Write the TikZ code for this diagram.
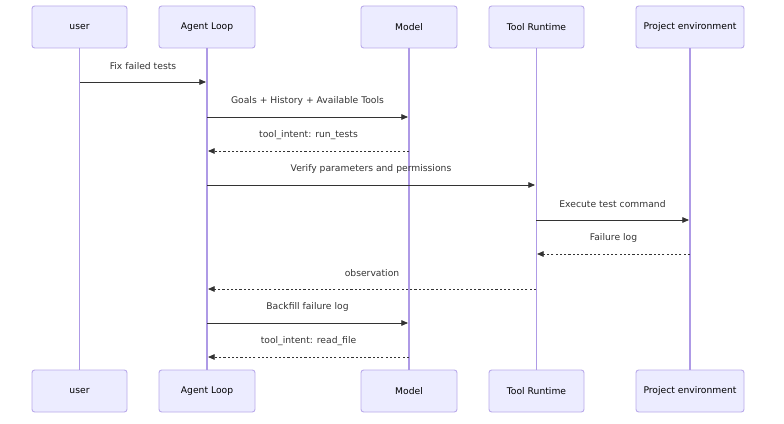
\documentclass[tikz,border=0pt]{standalone}
\usepackage{fontspec}
\setmainfont{DejaVu Sans}
\usetikzlibrary{arrows.meta}
\definecolor{boxfill}{HTML}{ECECFF}
\definecolor{boxline}{HTML}{B9A9EA}
\definecolor{life}{HTML}{AE9AE6}
\definecolor{ink}{HTML}{333333}
\tikzset{
  actor/.style={draw=boxline, line width=0.7pt, fill=boxfill, rounded corners=2pt,
    minimum height=31.5pt, inner sep=0pt, text=black, font=\fontsize{6.9pt}{8pt}\selectfont},
  lifeline/.style={draw=life, line width=1.1pt},
  msg/.style={draw=ink, line width=0.6pt, -{Triangle[length=5pt,width=4.2pt]}},
  reply/.style={msg, dash pattern=on 1.6pt off 1.6pt},
  lbl/.style={text=ink, font=\fontsize{6.9pt}{8pt}\selectfont, inner sep=0pt, yshift=12pt}
}
\begin{document}
\begin{tikzpicture}[x=0.75pt,y=-0.75pt]
\useasboundingbox (0,0) rectangle (784,424);
% top actors
\node[actor, minimum width=71.25pt] (uT) at (79.5,27) {user};
\node[actor, minimum width=72pt] (aT) at (207,27) {Agent Loop};
\node[actor, minimum width=72pt] (mT) at (409,27) {Model};
\node[actor, minimum width=71.25pt] (tT) at (536.5,27) {Tool Runtime};
\node[actor, minimum width=81pt] (pT) at (690,27) {Project environment};
% bottom actors
\node[actor, minimum width=71.25pt] (uB) at (79.5,391) {user};
\node[actor, minimum width=72pt] (aB) at (207,391) {Agent Loop};
\node[actor, minimum width=72pt] (mB) at (409,391) {Model};
\node[actor, minimum width=71.25pt] (tB) at (536.5,391) {Tool Runtime};
\node[actor, minimum width=81pt] (pB) at (690,391) {Project environment};
% lifelines
\draw[lifeline] (uT.south) -- (uB.north);
\draw[lifeline] (aT.south) -- (aB.north);
\draw[lifeline] (mT.south) -- (mB.north);
\draw[lifeline] (tT.south) -- (tB.north);
\draw[lifeline] (pT.south) -- (pB.north);
% message coordinates
\coordinate (s1) at (80,82);  \coordinate (e1) at (206,82);
\coordinate (s2) at (207,117); \coordinate (e2) at (408,117);
\coordinate (s3) at (409,151); \coordinate (e3) at (208,151);
\coordinate (s4) at (207,185); \coordinate (e4) at (535,185);
\coordinate (s5) at (536,220); \coordinate (e5) at (689,220);
\coordinate (s6) at (690,254); \coordinate (e6) at (537,254);
\coordinate (s7) at (536,289); \coordinate (e7) at (208,289);
\coordinate (s8) at (207,323); \coordinate (e8) at (408,323);
\coordinate (s9) at (409,357); \coordinate (e9) at (208,357);
% messages
\draw[msg] (s1) -- node[midway,lbl] {Fix failed tests} (e1);
\draw[msg] (s2) -- node[midway,lbl] {Goals + History + Available Tools} (e2);
\draw[reply] (s3) -- node[midway,lbl] {tool\_intent: run\_tests} (e3);
\draw[msg] (s4) -- node[midway,lbl] {Verify parameters and permissions} (e4);
\draw[msg] (s5) -- node[midway,lbl] {Execute test command} (e5);
\draw[reply] (s6) -- node[midway,lbl] {Failure log} (e6);
\draw[reply] (s7) -- node[midway,lbl] {observation} (e7);
\draw[msg] (s8) -- node[midway,lbl] {Backfill failure log} (e8);
\draw[reply] (s9) -- node[midway,lbl] {tool\_intent: read\_file} (e9);
\end{tikzpicture}
\end{document}
